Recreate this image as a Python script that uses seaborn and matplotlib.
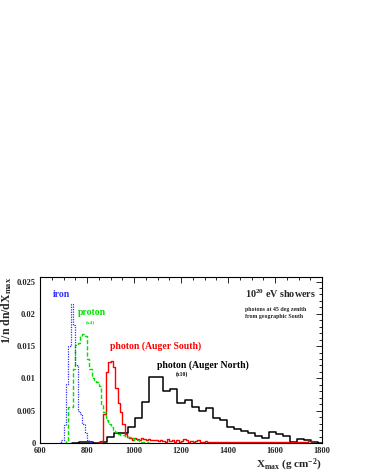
import numpy as np
import pandas as pd
import matplotlib
matplotlib.use("Agg")
import matplotlib.pyplot as plt
from matplotlib.ticker import MultipleLocator
import seaborn as sns

# Xmax distributions, 10^20 eV showers (bin contents)
iron_start, iron_width = 680, 10
iron = [0.0, 0.0005, 0.0028, 0.0092, 0.0150, 0.0215, 0.0183, 0.0120, 0.0050,
        0.0045, 0.0030, 0.0015, 0.0004, 0.0001, 0.0]

proton_start, proton_width = 700, 10   # scaled x4
proton = [0.0, 0.0003, 0.0055, 0.0056, 0.0115, 0.0152, 0.0155, 0.0166, 0.0168,
          0.0166, 0.0130, 0.0115, 0.0100, 0.0097, 0.0095, 0.0088, 0.0060, 0.0048,
          0.0036, 0.0030, 0.0025, 0.0020, 0.0017, 0.0014, 0.0012, 0.0012, 0.0010,
          0.0010, 0.0009, 0.0007, 0.0005, 0.0004, 0.0003, 0.0002, 0.0001, 0.0001,
          0.0]

south_start, south_width = 830, 10
photon_south = [0.0, 0.0, 0.0001, 0.0003, 0.0045, 0.0110, 0.0126, 0.0127, 0.0118,
                0.0085, 0.0062, 0.0048, 0.0030, 0.0014, 0.0010,
                0.0008, 0.0005, 0.0007, 0.0006, 0.0004, 0.0007, 0.0006, 0.0004,
                0.0006, 0.0005, 0.0004, 0.0005, 0.0003, 0.0005, 0.0003, 0.0002,
                0.0006, 0.0003, 0.0004, 0.0002, 0.0005, 0.0002, 0.0003, 0.0006,
                0.0004, 0.0002, 0.0003, 0.0001, 0.0003, 0.0005, 0.0002, 0.0002,
                0.0003, 0.0002, 0.0001, 0.0002, 0.0001, 0.0002, 0.0002, 0.0001,
                0.0001, 0.0002, 0.0001, 0.0002, 0.0001, 0.0001, 0.0002, 0.0001,
                0.0001, 0.0001, 0.0002, 0.0001, 0.0001, 0.0001, 0.0002, 0.0001,
                0.0001, 0.0001, 0.0001, 0.0002, 0.0001, 0.0001, 0.0001, 0.0001,
                0.0001, 0.0001, 0.0001, 0.0001, 0.0001, 0.0002, 0.0001, 0.0001,
                0.0001, 0.0001, 0.0002, 0.0002, 0.0003, 0.0003]

north_start, north_width = 735, 30   # scaled x10
photon_north = [0.0, 0.0002, 0.0001, 0.0, 0.0001, 0.0009, 0.0016, 0.0016, 0.0025,
                0.0039, 0.0063, 0.0102, 0.0102, 0.0080, 0.0083, 0.0062, 0.0066,
                0.0055, 0.0050, 0.0054, 0.0039, 0.0036, 0.0025, 0.0021, 0.0019,
                0.0016, 0.0011, 0.0008, 0.0017, 0.0014, 0.0011, 0.0002, 0.0006,
                0.0004, 0.0001, 0.0]


def draw_hist(ax, start, width, values, **kws):
    edges = start + width * np.arange(len(values) + 1)
    df = pd.DataFrame({"xmax": edges[:-1] + width / 2, "w": values})
    sns.histplot(data=df, x="xmax", weights="w", bins=edges.tolist(),
                 element="step", fill=False, stat="count", ax=ax, **kws)


sns.set_style("white")
plt.rcParams["font.family"] = ["Liberation Serif", "DejaVu Serif"]
plt.rcParams["font.weight"] = "bold"
plt.rcParams["mathtext.fontset"] = "custom"
plt.rcParams["mathtext.rm"] = "Liberation Serif:bold"
plt.rcParams["mathtext.bf"] = "Liberation Serif:bold"
plt.rcParams["mathtext.it"] = "Liberation Serif:bold"
plt.rcParams["mathtext.default"] = "rm"

fig = plt.figure(figsize=(3.66, 4.74), dpi=100)
ax = fig.add_axes([40 / 366, 31 / 474, 282 / 366, 166 / 474])

draw_hist(ax, north_start, north_width, photon_north, color="black", linewidth=1.1)
draw_hist(ax, south_start, south_width, photon_south, color="#ff0000", linewidth=1.0)
draw_hist(ax, proton_start, proton_width, proton, color="#00e000", linewidth=1.0,
          linestyle=(0, (3, 1.5)))
draw_hist(ax, iron_start, iron_width, iron, color="#3030ff", linewidth=0.9,
          linestyle=(0, (1, 1)))

ax.set_xlim(600, 1800)
ax.set_ylim(0, 0.0257)
ax.xaxis.set_major_locator(MultipleLocator(200))
ax.xaxis.set_minor_locator(MultipleLocator(50))
ax.yaxis.set_major_locator(MultipleLocator(0.005))
ax.yaxis.set_minor_locator(MultipleLocator(0.001))
ax.set_yticks([0, 0.005, 0.01, 0.015, 0.02, 0.025])
ax.set_yticklabels(["0", "0.005", "0.01", "0.015", "0.02", "0.025"])
ax.tick_params(which="both", direction="in", top=True, right=True,
               labelsize=6, width=0.7)
ax.tick_params(which="major", length=4, pad=3)
ax.tick_params(which="minor", length=2)
for lbl in ax.get_xticklabels() + ax.get_yticklabels():
    lbl.set_fontweight("bold")
for s in ax.spines.values():
    s.set_linewidth(0.8)
    s.set_color("black")

ax.set_ylabel("1/n dn/dX$_{\\mathrm{max}}$", fontsize=8.5, fontweight="bold",
              loc="top", labelpad=2)
ax.set_xlabel("X$_{\\mathrm{max}}$ (g cm$^{\\mathrm{-2}}$)", fontsize=8,
              fontweight="bold", loc="right", labelpad=1)

tr = ax.transAxes
ax.text(0.047, 0.878, "iron", color="#3030ff", fontsize=7, transform=tr)
ax.text(0.136, 0.771, "proton", color="#00e000", fontsize=7, transform=tr)
ax.text(0.163, 0.731, "(x4)", color="#00e000", fontsize=3.8, transform=tr,
        va="center")
ax.text(0.248, 0.570, "photon (Auger South)", color="#ff0000", fontsize=7,
        transform=tr)
ax.text(0.416, 0.456, "photon (Auger North)", color="black", fontsize=7,
        transform=tr)
ax.text(0.482, 0.414, "(x10)", color="black", fontsize=4, transform=tr,
        va="center")
ax.text(0.726, 0.875, "10$^{\\mathrm{20}}$ eV showers", fontsize=7.3, transform=tr)
ax.text(0.726, 0.807, "photons at 45 deg zenith", fontsize=4.2, transform=tr,
        va="center")
ax.text(0.726, 0.765, "from geographic South", fontsize=4.2, transform=tr,
        va="center")

fig.savefig("out.png", dpi=100)
